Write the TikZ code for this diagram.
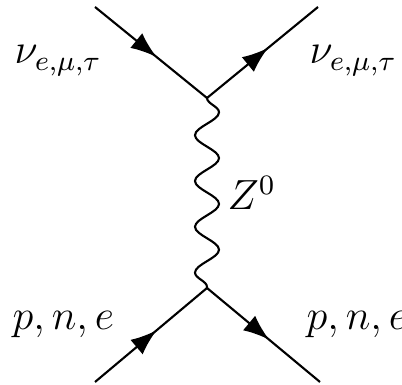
\documentclass[tikz,border=0pt]{standalone}
\usepackage{amsmath, amssymb}
\usetikzlibrary{positioning,arrows.meta,decorations.markings,decorations.pathmorphing}
\tikzset{
  fermion/.style={semithick, postaction={decorate},
    decoration={markings, mark=at position 0.55 with {\arrow{Latex[length=2.6mm,width=1.9mm]}}}},
  boson/.style={semithick, decorate,
    decoration={snake, segment length=4.58mm, amplitude=1.2mm}},
  partlabel/.style={inner sep=0pt, anchor=base west, font=\fontsize{12}{14}\selectfont}
}
\begin{document}
\begin{tikzpicture}
      \useasboundingbox (0,0) rectangle (4.02,3.85);
      \coordinate (vtop) at (2.07,2.87);
      \coordinate (vbot) at (2.07,0.97);
      \coordinate (inup) at (0.95,3.78);
      \coordinate (outup) at (3.18,3.78);
      \coordinate (indown) at (0.95,0.03);
      \coordinate (outdown) at (3.20,0.03);
      \draw[fermion] (inup) -- (vtop);
      \draw[fermion] (vtop) -- (outup);
      \draw[fermion] (indown) -- (vbot);
      \draw[fermion] (vbot) -- (outdown);
      \draw[boson] (vtop) -- (vbot);
      \node[partlabel] (nuin) at (0.14,3.21) {$\nu_{e,\mu,\tau}$};
      \node[partlabel] (nuout) at (3.09,3.21) {$\nu_{e,\mu,\tau}$};
      \node[partlabel] (pin) at (0.12,0.55) {$p,n,e$};
      \node[partlabel] (pout) at (3.06,0.55) {$p,n,e$};
      \node[partlabel] (zlab) at (2.27,1.75) {$Z^0$};
    \end{tikzpicture}
\end{document}
